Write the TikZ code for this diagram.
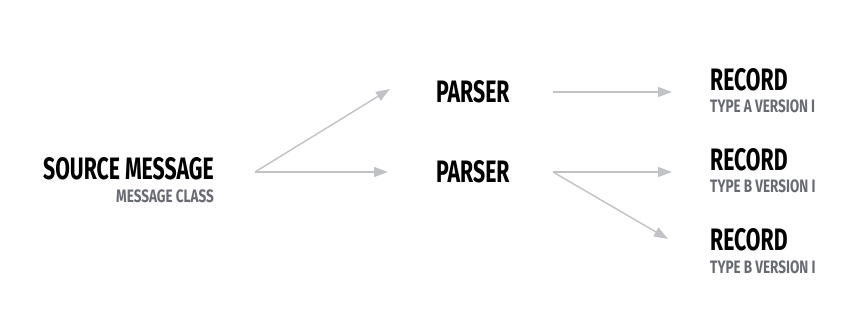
\documentclass[tikz,border=0pt]{standalone}
\usepackage{fontspec}
\setmainfont{Fira Sans}
\newfontfamily\titlefont[FakeStretch=0.685]{Fira Sans Bold}
\newfontfamily\subfont[FakeStretch=0.75]{Fira Sans Bold}
\usetikzlibrary{arrows.meta}
\definecolor{arrowgray}{RGB}{192,194,198}
\definecolor{subgray}{RGB}{104,108,114}
\tikzset{
  title/.style={inner sep=0pt, font=\titlefont\fontsize{31}{31}\selectfont, text=black},
  subtitle/.style={inner sep=0pt, font=\subfont\fontsize{18}{18}\selectfont, text=subgray},
  flow/.style={draw=arrowgray, line width=1.4pt, -{Triangle[length=14pt,width=10pt]}}
}
\begin{document}
\begin{tikzpicture}[x=1pt,y=-1pt]
\useasboundingbox (0,0) rectangle (859,323);
% texts (anchored at base)
\node[title, anchor=base east] (src) at (214,180) {SOURCE MESSAGE};
\node[subtitle, anchor=base east] (srcsub) at (214,203) {MESSAGE CLASS};
\node[title, anchor=base west] (p1) at (436,103) {PARSER};
\node[title, anchor=base west] (p2) at (436,183) {PARSER};
\node[title, anchor=base west] (r1) at (710,91) {RECORD};
\node[subtitle, anchor=base west] (r1sub) at (710,113) {TYPE A VERSION I};
\node[title, anchor=base west] (r2) at (710,171) {RECORD};
\node[subtitle, anchor=base west] (r2sub) at (710,193) {TYPE B VERSION I};
\node[title, anchor=base west] (r3) at (710,251) {RECORD};
\node[subtitle, anchor=base west] (r3sub) at (710,273) {TYPE B VERSION I};
% connector ends
\coordinate (srcout) at (255,172);
\coordinate (p1in) at (390,89);
\coordinate (p2in) at (388,172);
\coordinate (p1out) at (553,92);
\coordinate (p2out) at (553,172);
\coordinate (r1in) at (672,92);
\coordinate (r2in) at (672,172);
\coordinate (r3in) at (668,239);
\draw[flow] (srcout) -- (p1in);
\draw[flow] (srcout) -- (p2in);
\draw[flow] (p1out) -- (r1in);
\draw[flow] (p2out) -- (r2in);
\draw[flow] (p2out) -- (r3in);
\end{tikzpicture}
\end{document}
